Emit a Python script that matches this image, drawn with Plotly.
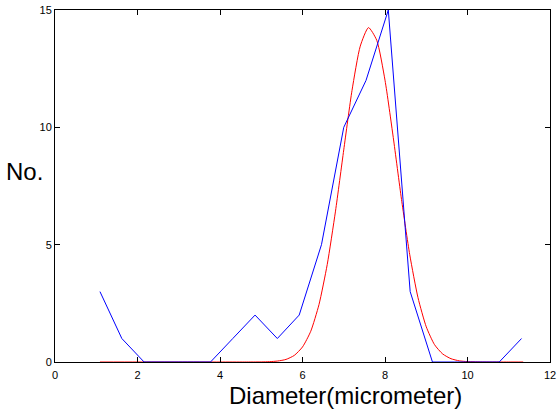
import plotly.graph_objects as go

# Histogram counts (blue)
bin_x = [1.09, 1.62, 2.16, 2.70, 3.24, 3.77, 4.31, 4.85, 5.39, 5.92,
         6.46, 7.00, 7.54, 8.08, 8.61, 9.15, 9.69, 10.23, 10.77, 11.31]
counts = [3, 1, 0, 0, 0, 0, 1, 2, 1, 2, 5, 10, 12, 15, 3, 0, 0, 0, 0, 1]

# Fitted curve (red)
fit_x = [1.09, 2.0, 3.0, 4.0, 4.6, 5.0, 5.2, 5.4, 5.6, 5.8, 6.0, 6.2, 6.4, 6.6, 6.8,
         7.0, 7.2, 7.4, 7.6, 7.8, 8.0, 8.2, 8.4, 8.6, 8.8, 9.0, 9.2, 9.4,
         9.6, 9.8, 10.0, 10.4, 11.0, 11.35]
fit_y = [0, 0, 0, 0, 0, 0.004, 0.014, 0.042, 0.11, 0.28, 0.64, 1.31, 2.45, 4.16, 6.43,
         9.04, 11.57, 13.46, 14.25, 13.71, 12.01, 9.57, 6.93, 4.57, 2.74, 1.50, 0.74, 0.34,
         0.14, 0.05, 0.017, 0, 0, 0]

x_ticks = [0, 2, 4, 6, 8, 10, 12]
y_ticks = [0, 5, 10, 15]

fig = go.Figure()
fig.add_trace(go.Scatter(x=fit_x, y=fit_y, mode="lines",
                         line=dict(color="#ff0000", width=1, shape="spline", smoothing=0.6),
                         showlegend=False, hoverinfo="skip"))
fig.add_trace(go.Scatter(x=bin_x, y=counts, mode="lines",
                         line=dict(color="#0000ff", width=1),
                         showlegend=False))

axis_common = dict(showline=True, linecolor="black", linewidth=1, mirror="ticks",
                   ticks="inside", ticklen=5, tickcolor="black", tickwidth=1,
                   showgrid=False, zeroline=False, automargin=False,
                   tickfont=dict(family="Liberation Sans, Arial, sans-serif", size=11, color="black"))

fig.update_xaxes(range=[0, 12], tickvals=x_ticks, ticklabelstandoff=3, **axis_common)
fig.update_yaxes(range=[0, 15], tickvals=y_ticks, **axis_common)

fig.add_annotation(text="No.", xref="paper", yref="paper", x=-0.02, y=0.54,
                   xanchor="right", yanchor="middle", showarrow=False,
                   font=dict(family="Liberation Sans, Arial, sans-serif", size=24, color="black"))
fig.add_annotation(text="Diameter(micrometer)", xref="paper", yref="paper", x=0.586, y=-0.05,
                   xanchor="center", yanchor="top", showarrow=False,
                   font=dict(family="Liberation Sans, Arial, sans-serif", size=24, color="black"))

fig.update_layout(width=560, height=417, margin=dict(l=55, r=10, t=10, b=55),
                  plot_bgcolor="white", paper_bgcolor="white")

fig.write_html("out.html")
